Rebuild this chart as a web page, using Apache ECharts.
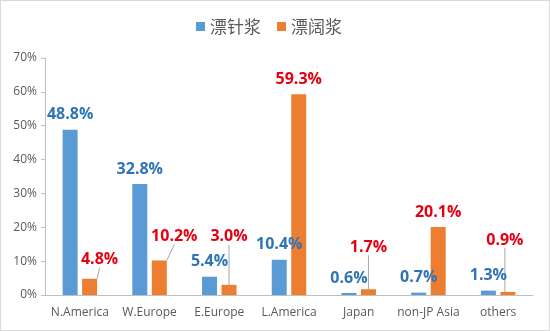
<!DOCTYPE html>
<html>
<head>
<meta charset="utf-8">
<script src="https://cdn.jsdelivr.net/npm/echarts@6/dist/echarts.min.js"></script>
<style>
  html, body { margin: 0; padding: 0; background: #fff; }
  #chart { width: 548px; height: 329px; border: 1px solid #d9d9d9; }
</style>
</head>
<body>
<div id="chart"></div>
<script>
// Market share by region, bleached softwood vs. hardwood kraft pulp
const regions = ['N.America', 'W.Europe', 'E.Europe', 'L.America', 'Japan', 'non-JP Asia', 'others'];
const softwoodShare = [48.8, 32.8, 5.4, 10.4, 0.6, 0.7, 1.3];   // 漂针浆
const hardwoodShare = [4.8, 10.2, 3.0, 59.3, 1.7, 20.1, 0.9];   // 漂阔浆
const yTicks = [0, 10, 20, 30, 40, 50, 60, 70];

// Pixel shifts for the hardwood labels that sit away from their bars (null = stays on top)
const hardwoodLabelShift = [[10, -4], [15, -9], [0, -33], null, [0, -27], null, [-3, -37]];

const chart = echarts.init(document.getElementById('chart'));
const labelFont = 'Open Sans, Noto Sans, sans-serif';

const hardwoodData = hardwoodShare.map((v, i) => ({
  value: v,
  labelLine: { show: hardwoodLabelShift[i] !== null }
}));

chart.setOption({
  animation: false,
  legend: {
    top: 12,
    left: 190,
    itemWidth: 9,
    itemHeight: 9,
    itemGap: 16,
    icon: 'rect',
    textStyle: { color: '#595959', fontSize: 17, fontFamily: 'Noto Sans CJK SC' },
    data: ['漂针浆', '漂阔浆']
  },
  grid: { left: 44, right: 16, top: 57, bottom: 35 },
  xAxis: {
    type: 'category',
    data: regions,
    axisLine: { lineStyle: { color: '#bfbfbf' } },
    axisTick: { show: false },
    axisLabel: { color: '#595959', fontSize: 12, margin: 12, interval: 0, fontFamily: 'Open Sans, sans-serif' }
  },
  yAxis: {
    type: 'value',
    min: yTicks[0],
    max: yTicks[yTicks.length - 1],
    interval: 10,
    splitLine: { show: false },
    axisLine: { show: true, lineStyle: { color: '#bfbfbf' } },
    axisTick: { show: true, length: 4, lineStyle: { color: '#bfbfbf' } },
    axisLabel: { color: '#595959', fontSize: 12, margin: 8, formatter: '{value}%', fontFamily: 'Open Sans, sans-serif' }
  },
  series: [
    {
      name: '漂针浆',
      type: 'bar',
      data: softwoodShare,
      barWidth: 15,
      barGap: '30%',
      itemStyle: { color: '#5b9bd5' },
      label: {
        show: true,
        position: 'top',
        distance: 7,
        formatter: p => p.value.toFixed(1) + '%',
        color: '#2e75b6',
        fontSize: 16,
        fontWeight: 'bold',
        fontFamily: labelFont
      }
    },
    {
      name: '漂阔浆',
      type: 'bar',
      data: hardwoodData,
      barWidth: 15,
      itemStyle: { color: '#ed7d31' },
      label: {
        show: true,
        position: 'top',
        distance: 7,
        formatter: p => p.value.toFixed(1) + '%',
        color: '#e60012',
        fontSize: 16,
        fontWeight: 'bold',
        fontFamily: labelFont
      },
      labelLine: { show: true, lineStyle: { color: '#a6a6a6', width: 1 } },
      labelLayout: p => {
        const s = hardwoodLabelShift[p.dataIndex];
        return s ? { dx: s[0], dy: s[1] } : {};
      }
    }
  ]
});
</script>
</body>
</html>
